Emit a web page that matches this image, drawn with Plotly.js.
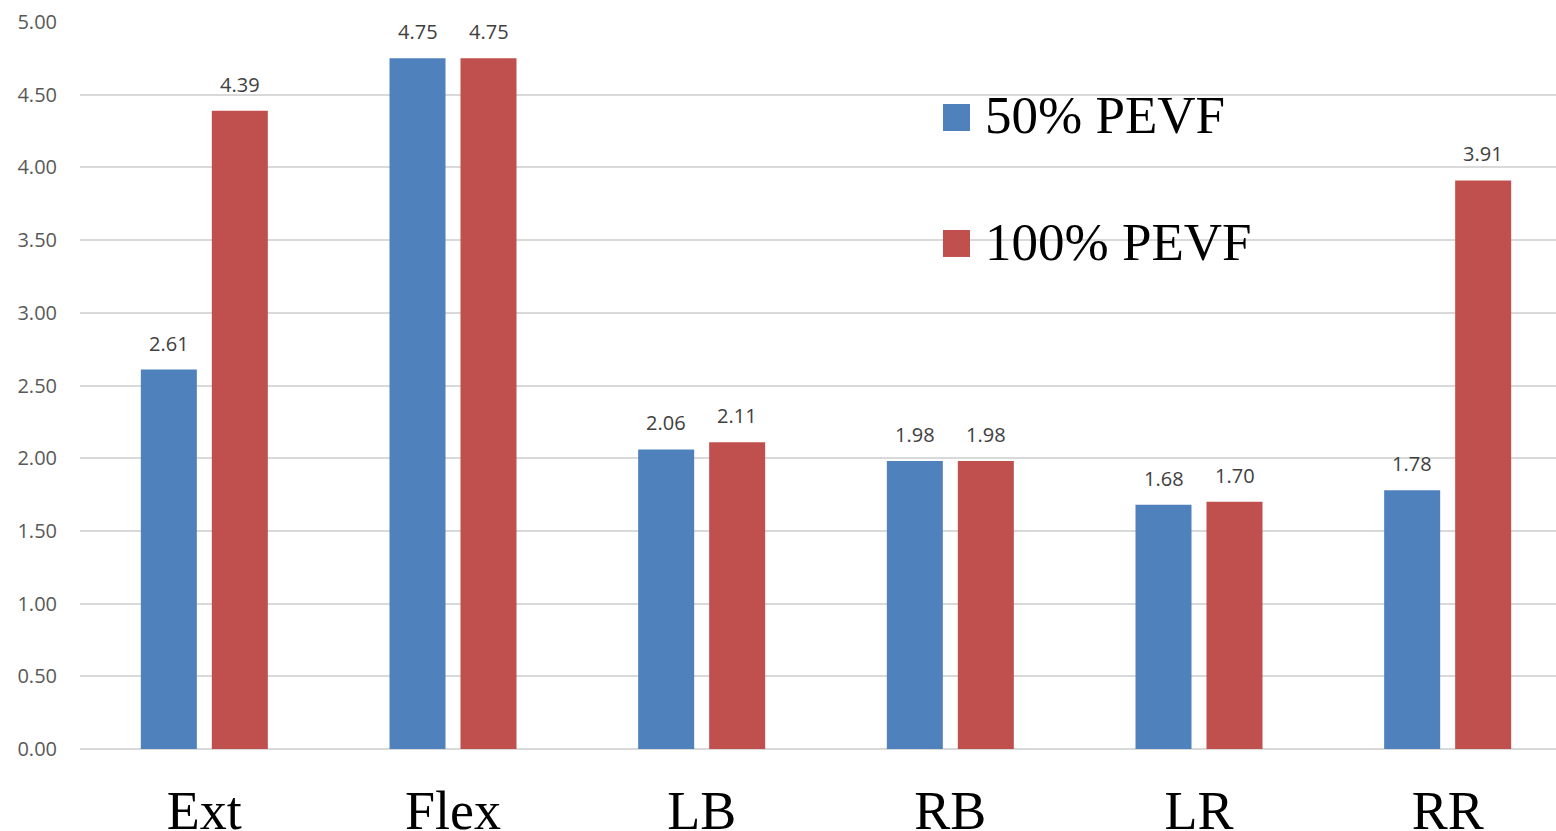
<!DOCTYPE html>
<html>
<head>
<meta charset="utf-8">
<script src="https://cdn.plot.ly/plotly-3.0.1.min.js"></script>
<style>
  html, body { margin: 0; padding: 0; overflow: hidden; background: #fff; }
  #chart { width: 1572px; height: 831px; }
</style>
</head>
<body>
<div id="chart"></div>
<script>
const categories = ["Ext", "Flex", "LB", "RB", "LR", "RR"];
const seriesNames = ["50% PEVF", "100% PEVF"];
const pevf50 = [2.61, 4.75, 2.06, 1.98, 1.68, 1.78];
const pevf100 = [4.39, 4.75, 2.11, 1.98, 1.70, 3.91];
const yTickVals = [0, 0.5, 1, 1.5, 2, 2.5, 3, 3.5, 4, 4.5, 5];

const colors = ["#4f81bd", "#c0504d"];
const series = [pevf50, pevf100];

const traces = series.map((vals, i) => ({
  type: "bar",
  name: seriesNames[i],
  x: categories,
  y: vals,
  showlegend: false,
  marker: { color: colors[i], line: { width: 0 } },
  hoverinfo: "x+y+name"
}));

const slotShift = 35.5;
const annotations = [];
series.forEach((vals, i) => {
  vals.forEach((v, j) => {
    annotations.push({
      x: categories[j], y: v, xref: "x", yref: "y",
      text: v.toFixed(2), showarrow: false,
      xshift: (i === 0 ? -slotShift : slotShift),
      yanchor: "bottom", yshift: 11,
      font: { family: "Open Sans, sans-serif", size: 20, color: "#404040" }
    });
  });
});

// legend (large square keys like the reference)
const legendX = 0.5784, legendKeyW = 0.0181;
const legendRows = [
  { y0: 0.8501, y1: 0.8872, ty: 0.8714 },
  { y0: 0.6768, y1: 0.7139, ty: 0.6967 }
];
const shapes = [];
seriesNames.forEach((name, i) => {
  const r = legendRows[i];
  shapes.push({
    type: "rect", xref: "paper", yref: "paper",
    x0: legendX, x1: legendX + legendKeyW, y0: r.y0, y1: r.y1,
    fillcolor: colors[i], line: { width: 0 }
  });
  annotations.push({
    xref: "paper", yref: "paper", x: 0.6052, y: r.ty,
    xanchor: "left", yanchor: "middle", showarrow: false,
    text: name,
    font: { family: "Liberation Serif, Times New Roman, serif", size: 53, color: "#000" }
  });
});

const layout = {
  width: 1572, height: 831,
  margin: { l: 80, r: 0, t: 22, b: 82 },
  paper_bgcolor: "#fff", plot_bgcolor: "#fff",
  barmode: "group",
  bargap: 0.429,
  bargroupgap: 0.211,
  showlegend: false,
  xaxis: {
    type: "category",
    tickfont: { family: "Liberation Serif, Times New Roman, serif", size: 54, color: "#000" },
    showgrid: false, zeroline: false, showline: false, ticks: "",
    ticklabelstandoff: 25
  },
  yaxis: {
    range: [0, 5],
    tickvals: yTickVals,
    tickformat: ".2f",
    tickfont: { family: "Open Sans, sans-serif", size: 20, color: "#595959" },
    showgrid: true, gridcolor: "#d9d9d9", gridwidth: 2,
    zeroline: true, zerolinecolor: "#d9d9d9", zerolinewidth: 2,
    showline: false, ticks: "",
    ticklabelstandoff: 22
  },
  shapes: shapes,
  annotations: annotations
};

Plotly.newPlot("chart", traces, layout, { displayModeBar: false });
</script>
</body>
</html>
